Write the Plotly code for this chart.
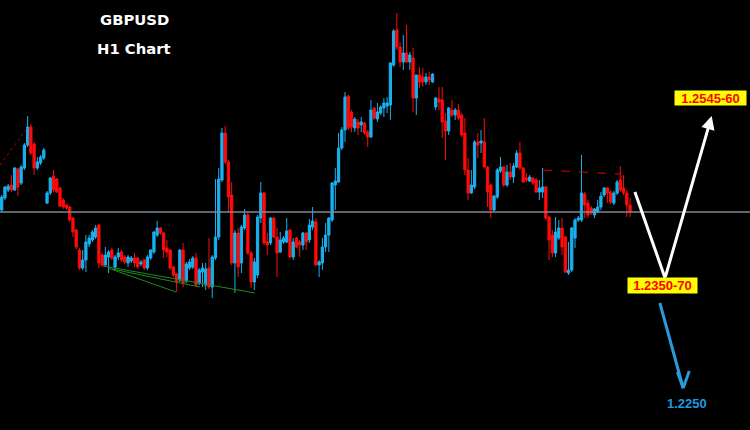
import plotly.graph_objects as go

# ---- data: GBPUSD H1 candles ----
opens = [1.2455,1.2467,1.2475,1.2480,1.2475,1.2496,1.2482,1.2497,1.2520,1.2538,
         1.2521,1.2497,1.2502,1.2507,1.2462,1.2472,1.2489,1.2486,1.2477,1.2465,
         1.2460,1.2458,1.2447,1.2435,1.2415,1.2397,1.2405,1.2421,1.2425,1.2428,
         1.2440,1.2410,1.2400,1.2408,1.2415,1.2398,1.2408,1.2413,1.2408,1.2402,
         1.2404,1.2407,1.2407,1.2401,1.2405,1.2397,1.2407,1.2413,1.2430,1.2437,
         1.2432,1.2417,1.2415,1.2398,1.2391,1.2385,1.2415,1.2384,1.2397,1.2398,
         1.2407,1.2382,1.2393,1.2380,1.2397,1.2378,1.2407,1.2428,1.2485,1.2532,
         1.2503,1.2470,1.2402,1.2432,1.2402,1.2437,1.2450,1.2412,1.2383,1.2390,
         1.2447,1.2472,1.2423,1.2422,1.2447,1.2428,1.2413,1.2423,1.2423,1.2435,
         1.2408,1.2427,1.2423,1.2420,1.2432,1.2425,1.2438,1.2443,1.2400,1.2402,
         1.2418,1.2430,1.2445,1.2480,1.2483,1.2517,1.2535,1.2569,1.2553,1.2537,
         1.2543,1.2540,1.2542,1.2533,1.2528,1.2557,1.2546,1.2552,1.2557,1.2559,
         1.2560,1.2600,1.2635,1.2618,1.2603,1.2612,1.2603,1.2607,1.2567,1.2590,
         1.2588,1.2583,1.2588,1.2583,1.2558,1.2566,1.2565,1.2544,1.2534,1.2555,
         1.2550,1.2555,1.2550,1.2532,1.2495,1.2472,1.2478,1.2523,1.2522,1.2523,
         1.2498,1.2480,1.2455,1.2468,1.2494,1.2498,1.2480,1.2493,1.2488,1.2498,
         1.2512,1.2497,1.2487,1.2484,1.2487,1.2485,1.2473,1.2473,1.2478,1.2448,
         1.2430,1.2412,1.2427,1.2437,1.2428,1.2392,1.2395,1.2427,1.2445,1.2445,
         1.2471,1.2462,1.2457,1.2450,1.2453,1.2458,1.2470,1.2477,1.2473,1.2462,
         1.2472,1.2485,1.2477,1.2472,1.2460]
highs = [1.2470,1.2479,1.2481,1.2490,1.2498,1.2497,1.2500,1.2522,1.2549,1.2541,
         1.2523,1.2508,1.2510,1.2517,1.2474,1.2488,1.2495,1.2487,1.2478,1.2467,
         1.2461,1.2459,1.2448,1.2436,1.2417,1.2415,1.2430,1.2430,1.2435,1.2440,
         1.2441,1.2412,1.2418,1.2415,1.2417,1.2410,1.2417,1.2415,1.2410,1.2410,
         1.2409,1.2412,1.2408,1.2405,1.2406,1.2410,1.2416,1.2434,1.2444,1.2438,
         1.2433,1.2425,1.2416,1.2399,1.2392,1.2416,1.2422,1.2403,1.2406,1.2409,
         1.2412,1.2397,1.2402,1.2402,1.2427,1.2410,1.2486,1.2497,1.2537,1.2539,
         1.2505,1.2483,1.2435,1.2437,1.2440,1.2456,1.2452,1.2414,1.2407,1.2450,
         1.2483,1.2473,1.2432,1.2448,1.2448,1.2437,1.2433,1.2429,1.2447,1.2436,
         1.2427,1.2428,1.2425,1.2433,1.2433,1.2446,1.2458,1.2447,1.2405,1.2427,
         1.2442,1.2448,1.2483,1.2497,1.2532,1.2538,1.2573,1.2570,1.2555,1.2548,
         1.2546,1.2548,1.2543,1.2535,1.2565,1.2558,1.2562,1.2560,1.2567,1.2568,
         1.2603,1.2636,1.2652,1.2623,1.2630,1.2640,1.2613,1.2617,1.2590,1.2598,
         1.2597,1.2592,1.2593,1.2592,1.2568,1.2578,1.2578,1.2552,1.2558,1.2565,
         1.2557,1.2561,1.2552,1.2547,1.2507,1.2495,1.2525,1.2532,1.2535,1.2547,
         1.2499,1.2481,1.2470,1.2497,1.2508,1.2499,1.2500,1.2502,1.2502,1.2515,
         1.2523,1.2498,1.2492,1.2490,1.2488,1.2487,1.2485,1.2497,1.2479,1.2449,
         1.2435,1.2448,1.2445,1.2447,1.2429,1.2423,1.2438,1.2447,1.2449,1.2510,
         1.2473,1.2465,1.2459,1.2457,1.2465,1.2473,1.2478,1.2478,1.2475,1.2474,
         1.2485,1.2499,1.2490,1.2475,1.2467]
lows = [1.2453,1.2465,1.2473,1.2473,1.2474,1.2469,1.2480,1.2495,1.2518,1.2510,
        1.2490,1.2495,1.2500,1.2505,1.2461,1.2470,1.2473,1.2472,1.2458,1.2456,
        1.2455,1.2443,1.2428,1.2416,1.2395,1.2395,1.2393,1.2418,1.2423,1.2426,
        1.2397,1.2398,1.2398,1.2392,1.2405,1.2395,1.2405,1.2403,1.2401,1.2398,
        1.2402,1.2398,1.2396,1.2399,1.2395,1.2395,1.2405,1.2411,1.2428,1.2430,
        1.2407,1.2408,1.2395,1.2388,1.2373,1.2383,1.2378,1.2382,1.2395,1.2396,
        1.2378,1.2380,1.2378,1.2375,1.2376,1.2367,1.2405,1.2425,1.2483,1.2501,
        1.2453,1.2400,1.2372,1.2388,1.2392,1.2435,1.2410,1.2377,1.2375,1.2387,
        1.2442,1.2420,1.2410,1.2420,1.2427,1.2388,1.2412,1.2421,1.2422,1.2407,
        1.2405,1.2417,1.2408,1.2415,1.2415,1.2422,1.2435,1.2399,1.2388,1.2395,
        1.2413,1.2413,1.2443,1.2455,1.2482,1.2515,1.2523,1.2535,1.2533,1.2533,
        1.2530,1.2533,1.2530,1.2518,1.2527,1.2545,1.2543,1.2550,1.2548,1.2552,
        1.2545,1.2598,1.2615,1.2598,1.2595,1.2602,1.2595,1.2553,1.2550,1.2577,
        1.2578,1.2580,1.2580,1.2582,1.2555,1.2555,1.2527,1.2505,1.2530,1.2548,
        1.2545,1.2545,1.2528,1.2490,1.2465,1.2471,1.2476,1.2507,1.2512,1.2497,
        1.2458,1.2447,1.2453,1.2466,1.2492,1.2478,1.2478,1.2485,1.2482,1.2497,
        1.2495,1.2482,1.2483,1.2483,1.2480,1.2472,1.2465,1.2467,1.2445,1.2405,
        1.2408,1.2408,1.2425,1.2410,1.2392,1.2390,1.2393,1.2417,1.2443,1.2443,
        1.2447,1.2447,1.2450,1.2447,1.2452,1.2455,1.2468,1.2462,1.2461,1.2460,
        1.2470,1.2473,1.2470,1.2448,1.2448]
closes = [1.2468,1.2478,1.2479,1.2475,1.2497,1.2478,1.2498,1.2520,1.2538,1.2512,
          1.2497,1.2503,1.2508,1.2515,1.2472,1.2487,1.2475,1.2473,1.2459,1.2458,
          1.2457,1.2445,1.2433,1.2418,1.2397,1.2405,1.2423,1.2427,1.2433,1.2437,
          1.2402,1.2400,1.2410,1.2413,1.2407,1.2408,1.2412,1.2405,1.2403,1.2408,
          1.2407,1.2402,1.2398,1.2403,1.2397,1.2408,1.2415,1.2433,1.2437,1.2432,
          1.2415,1.2413,1.2397,1.2390,1.2383,1.2415,1.2382,1.2401,1.2403,1.2407,
          1.2380,1.2395,1.2397,1.2396,1.2378,1.2408,1.2428,1.2486,1.2532,1.2503,
          1.2468,1.2402,1.2432,1.2398,1.2438,1.2450,1.2412,1.2383,1.2403,1.2448,
          1.2472,1.2422,1.2420,1.2447,1.2428,1.2412,1.2425,1.2427,1.2434,1.2408,
          1.2423,1.2418,1.2420,1.2432,1.2423,1.2440,1.2444,1.2400,1.2403,1.2418,
          1.2430,1.2447,1.2482,1.2484,1.2517,1.2535,1.2568,1.2537,1.2538,1.2546,
          1.2537,1.2543,1.2532,1.2528,1.2555,1.2547,1.2553,1.2558,1.2562,1.2562,
          1.2602,1.2634,1.2618,1.2603,1.2612,1.2603,1.2610,1.2567,1.2590,1.2583,
          1.2583,1.2588,1.2585,1.2591,1.2567,1.2563,1.2543,1.2534,1.2557,1.2550,
          1.2555,1.2547,1.2530,1.2495,1.2472,1.2480,1.2523,1.2520,1.2524,1.2498,
          1.2473,1.2455,1.2469,1.2495,1.2498,1.2480,1.2493,1.2488,1.2499,1.2512,
          1.2497,1.2483,1.2485,1.2488,1.2482,1.2473,1.2477,1.2478,1.2447,1.2425,
          1.2412,1.2433,1.2437,1.2418,1.2393,1.2395,1.2437,1.2445,1.2447,1.2472,
          1.2460,1.2450,1.2452,1.2456,1.2458,1.2469,1.2477,1.2472,1.2463,1.2472,
          1.2483,1.2475,1.2472,1.2460,1.2453]
bars = list(range(len(opens)))

# reference / drawing levels
pivot_level = 1.2453
red_trend_left = ([-0.5, 8.1], [1.2500, 1.2538])
red_trend_right = ([167.1, 190.9, 191.9], [1.2495, 1.2491, 1.2484])
green_trends = [([31.3, 78.2], [1.2399, 1.2372]),
                ([32.8, 53.8], [1.2397, 1.2373]),
                ([34.1, 61.2], [1.2396, 1.2378])]
white_path = ([195.5, 204.8, 219.2], [1.2473, 1.2387, 1.2549])
blue_shaft = ([203.2, 210.4], [1.2362, 1.2277])
blue_head = ([208.6, 210.4, 212.3], [1.2293, 1.2277, 1.2294])
target_up = "1.2545-60"
target_mid = "1.2350-70"
target_down = "1.2250"

BLUE = "#1ab0ee"
RED = "#ff0a0a"
ARROW_BLUE = "#2a9ad8"

fig = go.Figure()
fig.add_trace(go.Candlestick(
    x=bars, open=opens, high=highs, low=lows, close=closes,
    increasing=dict(line=dict(color=BLUE, width=1), fillcolor=BLUE),
    decreasing=dict(line=dict(color=RED, width=1), fillcolor=RED),
    whiskerwidth=0, hoverinfo="skip", showlegend=False,
))

# trend lines
fig.add_trace(go.Scatter(x=red_trend_left[0], y=red_trend_left[1], mode="lines",
                         line=dict(color="#b00000", width=1, dash="dot"),
                         hoverinfo="skip", showlegend=False))
fig.add_trace(go.Scatter(x=red_trend_right[0], y=red_trend_right[1], mode="lines",
                         line=dict(color="#e00000", width=1, dash="dash"),
                         hoverinfo="skip", showlegend=False))
for gx, gy in green_trends:
    fig.add_trace(go.Scatter(x=gx, y=gy, mode="lines",
                             line=dict(color="#1f8a1f", width=1),
                             hoverinfo="skip", showlegend=False))

# horizontal level
fig.add_shape(type="line", xref="paper", x0=0, x1=1, yref="y",
              y0=pivot_level, y1=pivot_level,
              line=dict(color="#7f8795", width=1.5))

# white V-arrow
fig.add_shape(type="line", xref="x", yref="y",
              x0=white_path[0][0], y0=white_path[1][0],
              x1=white_path[0][1], y1=white_path[1][1],
              line=dict(color="white", width=3))
fig.add_annotation(x=white_path[0][2], y=white_path[1][2], xref="x", yref="y",
                   ax=white_path[0][1], ay=white_path[1][1], axref="x", ayref="y",
                   showarrow=True, arrowhead=2, arrowsize=0.9, arrowwidth=3,
                   arrowcolor="white", text="")
# blue arrow (shaft + open V head)
fig.add_trace(go.Scatter(x=blue_shaft[0], y=blue_shaft[1], mode="lines",
                         line=dict(color=ARROW_BLUE, width=3),
                         hoverinfo="skip", showlegend=False))
fig.add_trace(go.Scatter(x=blue_head[0], y=blue_head[1], mode="lines",
                         line=dict(color=ARROW_BLUE, width=3),
                         hoverinfo="skip", showlegend=False))

LBL_FONT = "Liberation Sans"
TTL_FONT = "DejaVu Sans"
# target labels (paper coordinates)
fig.add_annotation(x=710.5/750, y=1-98/430, xref="paper", yref="paper",
                   xanchor="center", yanchor="middle",
                   text="<b>%s</b>" % target_up, showarrow=False,
                   font=dict(family=LBL_FONT, size=13, color="#ff0000"),
                   bgcolor="#ffff00", borderpad=0, width=71, height=14)
fig.add_annotation(x=662.5/750, y=1-285.5/430, xref="paper", yref="paper",
                   xanchor="center", yanchor="middle",
                   text="<b>%s</b>" % target_mid, showarrow=False,
                   font=dict(family=LBL_FONT, size=13, color="#ff0000"),
                   bgcolor="#ffff00", borderpad=0, width=69, height=15)
fig.add_annotation(x=687/750, y=1-403.5/430, xref="paper", yref="paper",
                   xanchor="center", yanchor="middle",
                   text="<b>%s</b>" % target_down, showarrow=False,
                   font=dict(family=LBL_FONT, size=13, color="#1e9ae0"))

# titles
fig.add_annotation(x=134/750, y=1-19/430, xref="paper", yref="paper",
                   xanchor="center", yanchor="middle",
                   text="<b>GBPUSD</b>", showarrow=False,
                   font=dict(family=TTL_FONT, size=14.8, color="white"))
fig.add_annotation(x=134/750, y=1-48.5/430, xref="paper", yref="paper",
                   xanchor="center", yanchor="middle",
                   text="<b>H1 Chart</b>", showarrow=False,
                   font=dict(family=TTL_FONT, size=14.8, color="white"))

fig.update_layout(
    width=750, height=430,
    margin=dict(l=0, r=0, t=0, b=0),
    paper_bgcolor="black", plot_bgcolor="black",
    boxgap=0.3, boxgroupgap=0,
    xaxis=dict(range=[-0.525, 231.03], visible=False, rangeslider=dict(visible=False),
               fixedrange=True),
    yaxis=dict(range=[1.2235, 1.2665], visible=False, fixedrange=True),
    showlegend=False,
)
fig.write_html("out.html", config={"displayModeBar": False},
               post_script="document.body.style.margin='0';"
                           "document.body.style.background='black';"
                           "document.body.style.overflow='hidden';")
